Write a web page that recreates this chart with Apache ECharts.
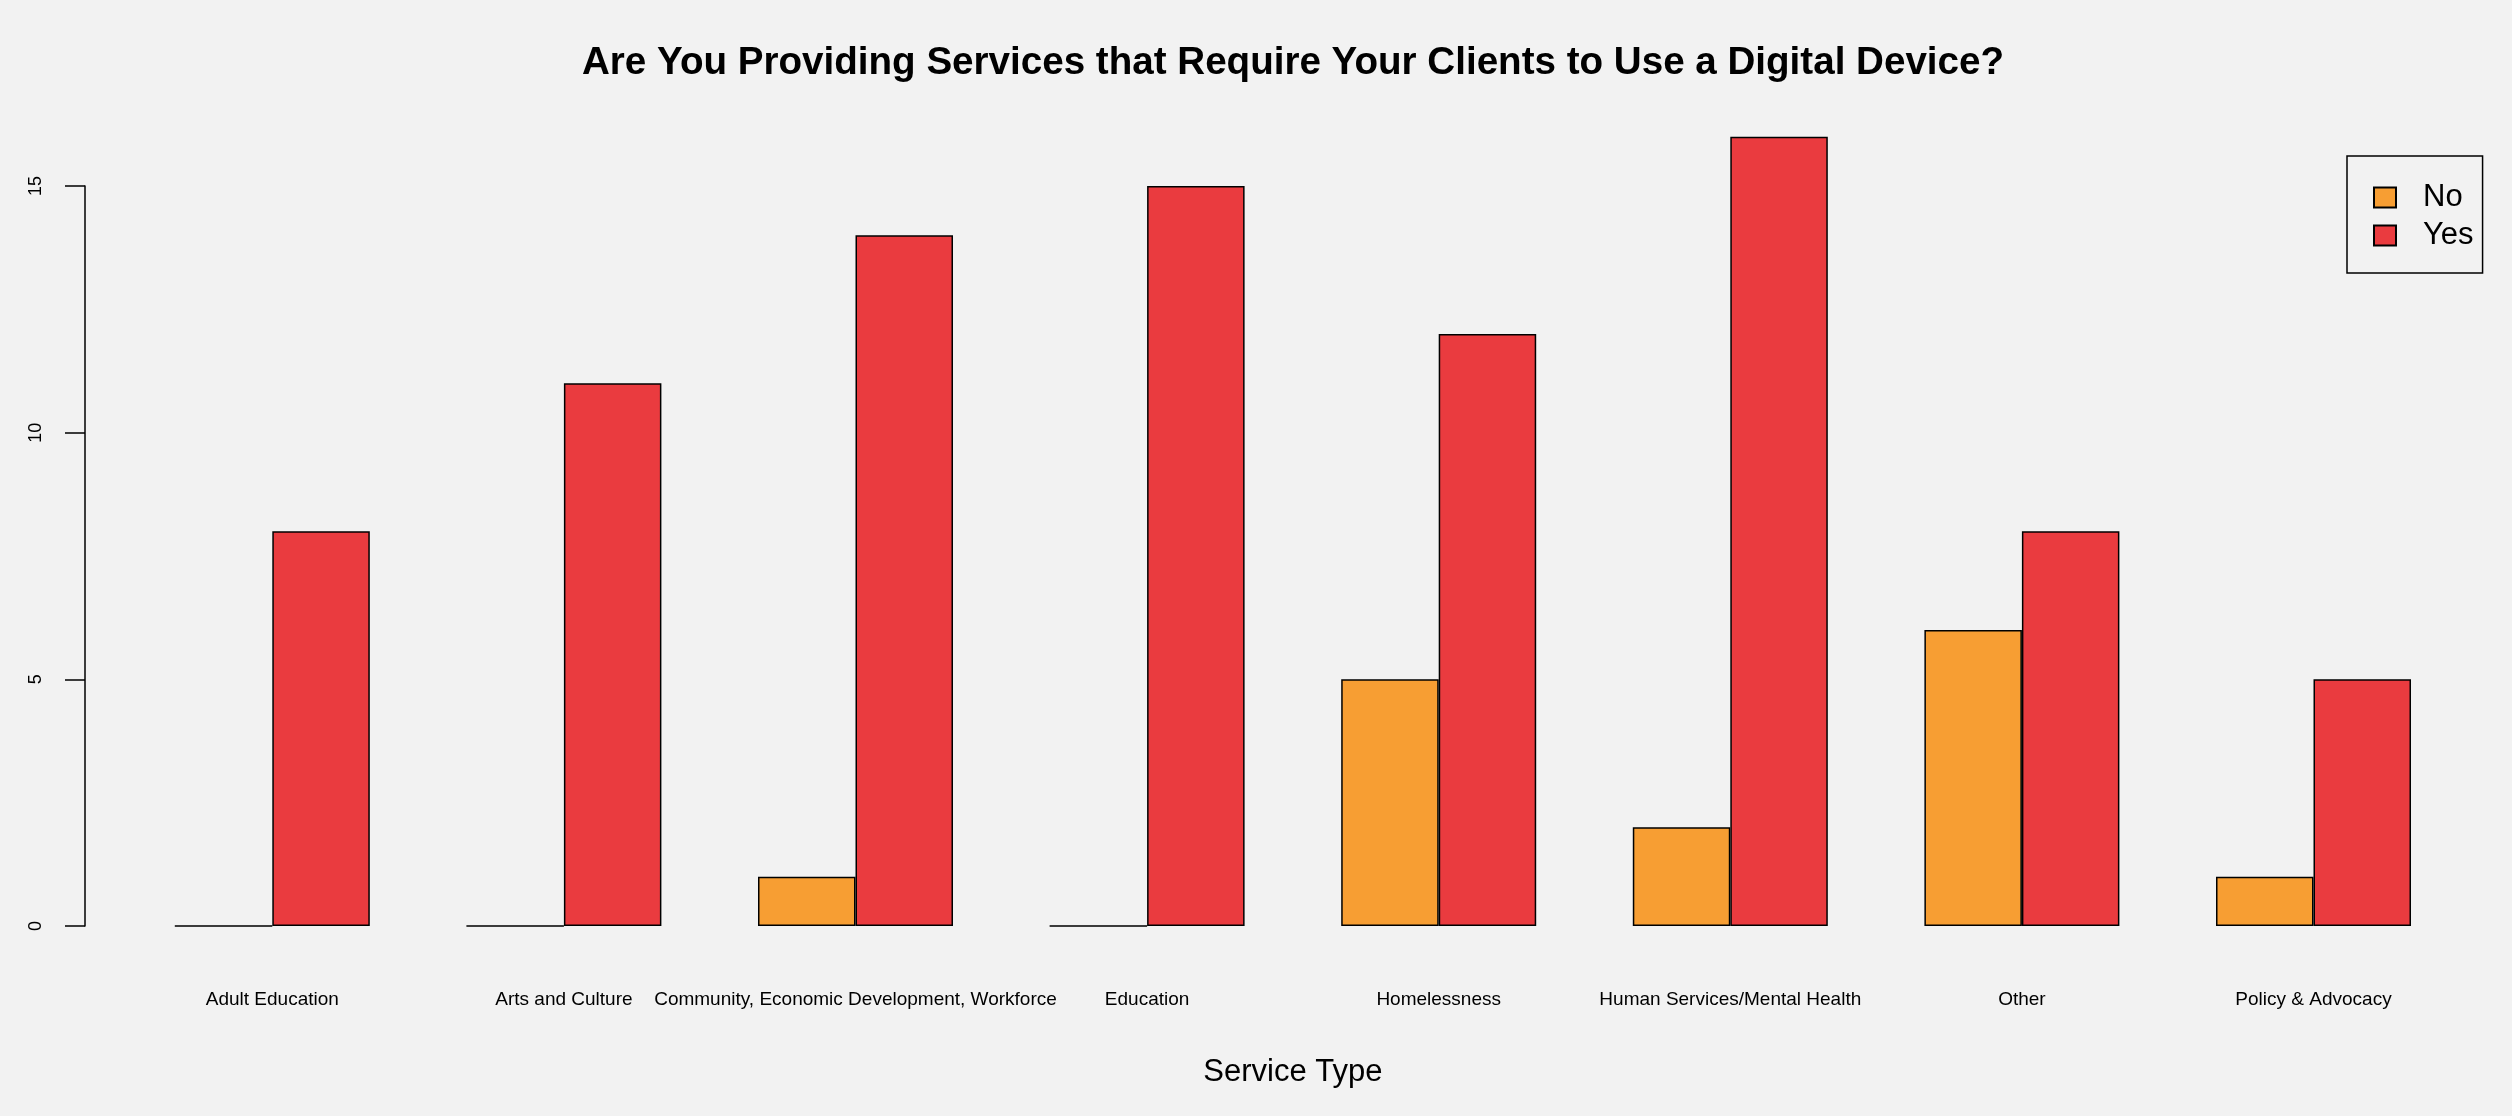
<!DOCTYPE html>
<html>
<head>
<meta charset="utf-8">
<script src="https://cdn.jsdelivr.net/npm/echarts@6/dist/echarts.min.js"></script>
<style>
  html, body { margin: 0; padding: 0; background: #F2F2F2; }
  #chart { width: 2512px; height: 1116px; }
</style>
</head>
<body>
<div id="chart"></div>
<script>
const categories = ['Adult Education', 'Arts and Culture', 'Community, Economic Development, Workforce', 'Education', 'Homelessness', 'Human Services/Mental Health', 'Other', 'Policy & Advocacy'];
const noValues = [0, 0, 1, 0, 5, 2, 6, 1];
const yesValues = [8, 11, 14, 15, 12, 16, 8, 5];
const seriesNames = ['No', 'Yes'];
const yTicks = [0, 5, 10, 15];

const FONT = '"Liberation Sans", Arial, Helvetica, sans-serif';
const chart = echarts.init(document.getElementById('chart'), null, { renderer: 'canvas' });

const option = {
  backgroundColor: '#F2F2F2',
  animation: false,
  title: {
    text: 'Are You Providing Services that Require Your Clients to Use a Digital Device?',
    left: 582,
    top: 44,
    padding: 0,
    textStyle: { fontFamily: FONT, fontWeight: 'bold', fontSize: 38.6, color: '#000', lineHeight: 38 }
  },
  legend: {
    data: seriesNames,
    orient: 'vertical',
    left: 2347,
    top: 156,
    padding: [26, 9, 22, 26],
    itemGap: 7,
    itemWidth: 22,
    itemHeight: 20,
    icon: 'rect',
    borderColor: '#000',
    borderWidth: 1.5,
    borderRadius: 0,
    textStyle: { fontFamily: FONT, fontSize: 31, color: '#000', lineHeight: 31, padding: [0, 0, 0, 22] }
  },
  grid: { left: 126.5, right: 52.7, top: 186, bottom: 190, containLabel: false },
  xAxis: {
    type: 'category',
    data: categories,
    axisLine: { show: false },
    axisTick: { show: false },
    axisLabel: { interval: 0, hideOverlap: false, margin: 64, fontFamily: FONT, fontSize: 19, color: '#000', lineHeight: 19 },
    name: 'Service Type',
    nameLocation: 'middle',
    nameGap: 131,
    nameTextStyle: { fontFamily: FONT, fontSize: 31, color: '#000', lineHeight: 31 }
  },
  yAxis: {
    type: 'value',
    min: yTicks[0],
    max: yTicks[yTicks.length - 1],
    interval: 5,
    offset: 41.5,
    splitLine: { show: false },
    axisLine: { show: true, lineStyle: { color: '#000', width: 1.5 } },
    axisTick: { show: true, length: 20, lineStyle: { color: '#000', width: 1.5 } },
    axisLabel: { rotate: 90, margin: 40, fontFamily: FONT, fontSize: 18, color: '#000' }
  },
  series: [
    {
      name: seriesNames[0],
      type: 'bar',
      data: noValues,
      barWidth: 97.5,
      barGap: '0%',
      clip: false,
      itemStyle: { color: '#F79E33', borderColor: '#000', borderWidth: 1.5 }
    },
    {
      name: seriesNames[1],
      type: 'bar',
      data: yesValues,
      barWidth: 97.5,
      barGap: '0%',
      clip: false,
      itemStyle: { color: '#EA3B3F', borderColor: '#000', borderWidth: 1.5 }
    }
  ]
};
chart.setOption(option);
</script>
</body>
</html>
